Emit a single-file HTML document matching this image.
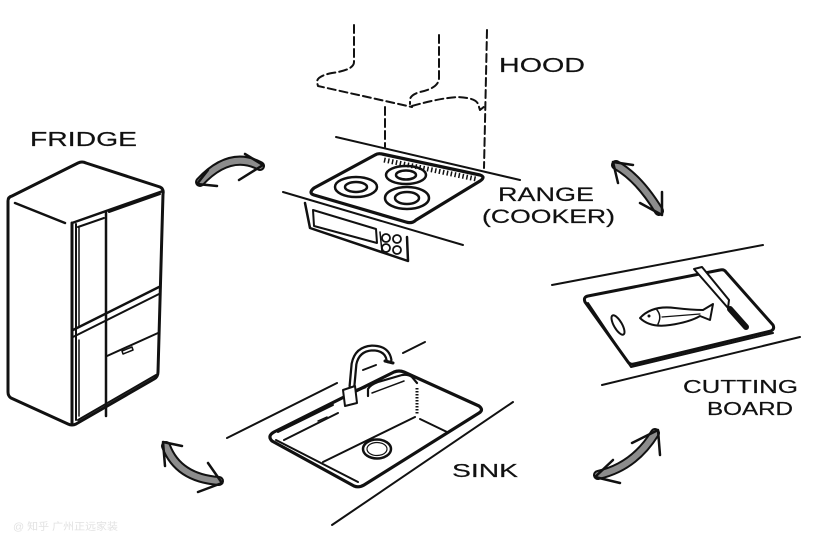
<!DOCTYPE html>
<html><head><meta charset="utf-8"><style>
html,body{margin:0;padding:0;background:#fff;}
svg{display:block;}
text{font-family:"Liberation Sans","Noto Sans CJK SC",sans-serif;fill:#111;stroke:#111;stroke-width:0.2;}
</style></head><body>
<svg width="819" height="545" viewBox="0 0 819 545" xmlns="http://www.w3.org/2000/svg">
<rect width="819" height="545" fill="#fff"/>
<g fill="none" stroke="#111" stroke-linecap="round" stroke-linejoin="round">

<!-- FRIDGE -->
<path d="M12,196 L78,163 Q82,161 86,163 L160,187 Q164,189 163,194 L158,372 Q158,377 154,379 L76,424 Q72,426 68,424 L11,398 Q8,396 8,392 L8,201 Q8,197 12,196 Z" stroke-width="3"/>
<path d="M15,203 L65,223" stroke-width="2.5"/>
<path d="M72,223 L72,423" stroke-width="3"/>
<path d="M76,224 L76,420" stroke-width="2"/>
<path d="M72,223 L163,191" stroke-width="2.5"/>
<path d="M78,227 L104,218" stroke-width="2"/>
<path d="M106,212 L106,416" stroke-width="2.5"/>
<path d="M109,212 L160,194" stroke-width="2"/>
<path d="M73,330 L159,287" stroke-width="2.5"/>
<path d="M73,337 L159,294" stroke-width="2"/>
<path d="M107,356 L158,333" stroke-width="2"/>
<path d="M122,351 L132,347 L133,350 L123,354 Z" stroke-width="1.5"/>
<path d="M78,420 L156,375" stroke-width="2"/>
<path d="M79,228 L79,327" stroke-width="1.5"/>
<path d="M79,340 L79,416" stroke-width="1.5"/>

<!-- HOOD (dashed) -->
<g stroke-width="2" stroke-dasharray="8 4">
<path d="M354,25 L354,62 Q354,70 332,73 Q317,76 317,82 L318,86 L412,107"/>
<path d="M439,35 L439,78 Q439,88 420,92 Q410,95 410,100 L410,104"/>
<path d="M412,106 Q440,98 458,97 Q476,98 478,104 L480,110 L485,106"/>
<path d="M487,30 L484,168"/>
<path d="M385,107 L385,147"/>
</g>

<!-- RANGE -->
<path d="M336,137 L520,180" stroke-width="2"/>
<path d="M283,192 L463,245" stroke-width="2"/>
<path d="M314,188 Q308,193 314,195 L406,222 Q412,224 416,220 L480,181 Q486,177 480,175 L382,154 Q378,153 375,155 Z" stroke-width="3.2"/>
<path d="M384,160 L476,179" stroke-width="5" stroke-dasharray="1.5 2.5" stroke-linecap="butt"/>
<ellipse cx="356" cy="187" rx="21" ry="10" stroke-width="2.5"/>
<ellipse cx="356" cy="187" rx="11" ry="5" stroke-width="2.5"/>
<ellipse cx="406" cy="175" rx="20" ry="9" stroke-width="2.5"/>
<ellipse cx="406" cy="175" rx="10" ry="4.5" stroke-width="2.5"/>
<ellipse cx="407" cy="198" rx="22" ry="11" stroke-width="2.5"/>
<ellipse cx="407" cy="198" rx="12" ry="6" stroke-width="2.5"/>
<path d="M305,203 L310,228 L408,261 L407,237" stroke-width="2.5"/>
<path d="M313,210 L376,229 L377,243 L314,226 Z" stroke-width="2"/>
<path d="M380,232 L382,252" stroke-width="1.5"/>
<circle cx="386" cy="238" r="4" stroke-width="1.8"/>
<circle cx="397" cy="239" r="4" stroke-width="1.8"/>
<circle cx="386" cy="248" r="4" stroke-width="1.8"/>
<circle cx="397" cy="250" r="4" stroke-width="1.8"/>

<!-- CUTTING BOARD -->
<path d="M552,285 L763,245" stroke-width="2"/>
<path d="M602,385 L800,337" stroke-width="2"/>
<path d="M588,296 L720,270 Q724,269 726,272 L773,325 Q775,329 771,331 L634,364 Q630,365 628,362 L585,302 Q583,297 588,296 Z" stroke-width="3"/>
<path d="M588,303 L631,367 L773,333" stroke-width="2"/>
<ellipse cx="618" cy="325" rx="4" ry="11" transform="rotate(-30 618 325)" stroke-width="2"/>
<path d="M640,318 Q652,305 675,308 Q692,310 703,310 L713,304 L710,320 L700,316 Q690,322 670,325 Q650,328 640,318 Z" stroke-width="2"/>
<path d="M657,310 Q662,316 658,324" stroke-width="1.5"/>
<circle cx="649" cy="316" r="1.5" fill="#111" stroke="none"/>
<path d="M662,317 L700,314" stroke-width="1.2"/>
<path d="M694,269 L702,267 L729,300 L728,308 Z" stroke-width="2" fill="#fff"/>
<path d="M730,309 L746,327" stroke-width="6"/>

<!-- SINK -->
<path d="M227,438 L337,383" stroke-width="2"/>
<path d="M363,370 L376,365" stroke-width="2"/>
<path d="M403,353 L425,342" stroke-width="2"/>
<path d="M332,525 L513,402" stroke-width="2"/>
<path d="M274,432 L394,372 Q399,370 404,372 L479,406 Q484,410 479,413 L364,485 Q359,488 354,486 L272,441 Q267,436 274,432 Z" stroke-width="3.2"/>
<path d="M276,440 L358,482" stroke-width="2"/>
<path d="M278,432 L333,405" stroke-width="2"/>
<path d="M284,440 L338,413" stroke-width="2"/>
<path d="M318,421 L327,417" stroke-width="1.5"/>
<path d="M323,462 L415,417" stroke-width="2"/>
<path d="M420,419 L447,432" stroke-width="2"/>
<path d="M417,388 L417,414" stroke-width="3" stroke-dasharray="1.5 1.5" stroke-linecap="butt"/>
<path d="M368,396 L368,389 Q370,385 378,382 L402,375 Q408,374 412,377 L417,383" stroke-width="2.2"/>
<path d="M372,393 L404,381" stroke-width="1.5"/>
<ellipse cx="377" cy="449" rx="14" ry="9.5" stroke-width="2.5"/>
<ellipse cx="377" cy="449" rx="10" ry="6.5" stroke-width="1.2"/>
<path d="M352,386 L354,364 Q357,349 372,348 Q387,348 389,360" stroke-width="7"/>
<path d="M352,386 L354,364 Q357,349 372,348 Q387,348 389,360" stroke="#fff" stroke-width="2.5"/>
<path d="M385,361 L393,363" stroke-width="3"/>
<path d="M343,390 L355,386 L357,403 L345,406 Z" stroke-width="2" fill="#fff"/>
<path d="M357,390 L365,387" stroke-width="3"/>

</g>

<!-- ARROWS -->
<g fill="none" stroke-linecap="round" stroke-linejoin="round">
<path d="M200,182 Q230,150 260,166" stroke="#111" stroke-width="10"/>
<path d="M200,182 Q230,150 260,166" stroke="#8c8c8c" stroke-width="6"/>
<path d="M208,170 L197,184 L217,186" stroke="#111" stroke-width="2.5"/>
<path d="M245,154 L263,165 L239,180" stroke="#111" stroke-width="2.5"/>

<path d="M166,446 Q178,478 219,481" stroke="#111" stroke-width="10"/>
<path d="M166,446 Q178,478 219,481" stroke="#8c8c8c" stroke-width="6"/>
<path d="M182,446 L163,442 L165,466" stroke="#111" stroke-width="2.5"/>
<path d="M208,463 L222,483 L198,492" stroke="#111" stroke-width="2.5"/>

<path d="M598,475 Q634,467 655,433" stroke="#111" stroke-width="10"/>
<path d="M598,475 Q634,467 655,433" stroke="#8c8c8c" stroke-width="6"/>
<path d="M613,460 L595,477 L620,483" stroke="#111" stroke-width="2.5"/>
<path d="M632,443 L658,430 L660,455" stroke="#111" stroke-width="2.5"/>

<path d="M616,165 Q639,178 659,211" stroke="#111" stroke-width="10"/>
<path d="M616,165 Q639,178 659,211" stroke="#8c8c8c" stroke-width="6"/>
<path d="M618,183 L613,162 L633,165" stroke="#111" stroke-width="2.5"/>
<path d="M640,203 L662,215 L662,192" stroke="#111" stroke-width="2.5"/>
</g>

<!-- LABELS -->
<text x="30" y="146" font-size="20" textLength="107" lengthAdjust="spacingAndGlyphs">FRIDGE</text>
<text x="499" y="72" font-size="20" textLength="86" lengthAdjust="spacingAndGlyphs">HOOD</text>
<text x="498" y="201" font-size="19" textLength="96" lengthAdjust="spacingAndGlyphs">RANGE</text>
<text x="482" y="223" font-size="19" textLength="133" lengthAdjust="spacingAndGlyphs">(COOKER)</text>
<text x="683" y="393" font-size="18" textLength="115" lengthAdjust="spacingAndGlyphs">CUTTING</text>
<text x="707" y="415" font-size="18" textLength="86" lengthAdjust="spacingAndGlyphs">BOARD</text>
<text x="452" y="477" font-size="18" textLength="66" lengthAdjust="spacingAndGlyphs">SINK</text>
<text x="13" y="530" font-size="10" style="fill:#e2e2e2;stroke:none" textLength="105" lengthAdjust="spacingAndGlyphs">@ 知乎 广州正远家装</text>
</svg>
</body></html>
